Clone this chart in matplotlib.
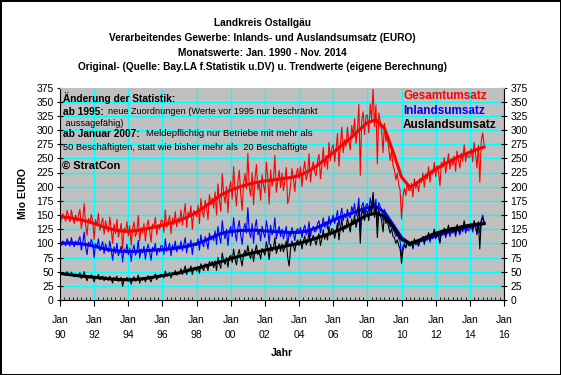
import matplotlib.pyplot as plt
import numpy as np

# monthly values Jan 1990 - Nov 2014, Mio EURO
inland = [
    92, 98, 104, 100, 96, 108, 102, 95, 110, 99, 94, 104,      # 1990
    97, 105, 112, 88, 101, 120, 93, 80, 102, 96, 107, 99,      # 1991
    75, 100, 92, 108, 87, 95, 103, 82, 99, 90, 85, 104,        # 1992
    88, 70, 94, 82, 100, 78, 86, 95, 67, 90, 84, 98,           # 1993
    80, 92, 68, 88, 97, 79, 85, 105, 74, 90, 83, 95,           # 1994
    72, 90, 98, 84, 70, 93, 88, 100, 79, 91, 85, 96,           # 1995
    95, 80, 108, 86, 92, 100, 78, 97, 88, 104, 85, 96,         # 1996
    90, 104, 87, 98, 110, 83, 100, 95, 106, 80, 101, 97,       # 1997
    96, 108, 88, 115, 100, 94, 112, 103, 90, 118, 106, 112,    # 1998
    105, 122, 98, 130, 112, 100, 140, 118, 108, 125, 96, 122,  # 1999
    130, 112, 145, 120, 104, 128, 140, 115, 98, 125, 135, 118, # 2000
    163, 120, 110, 135, 100, 128, 142, 115, 122, 104, 130, 118, # 2001
    110, 140, 125, 98, 132, 115, 122, 145, 108, 120, 130, 112, # 2002
    125, 108, 118, 130, 95, 120, 112, 128, 118, 105, 122, 126, # 2003
    118, 128, 110, 124, 132, 115, 120, 138, 112, 125, 130, 120, # 2004
    122, 135, 140, 118, 130, 145, 128, 138, 125, 148, 132, 142, # 2005
    150, 135, 145, 158, 130, 148, 162, 140, 152, 145, 160, 148, # 2006
    145, 165, 155, 170, 148, 158, 180, 120, 165, 172, 152, 168, # 2007
    170, 155, 180, 165, 185, 160, 178, 130, 172, 165, 158, 140, # 2008
    160, 145, 150, 140, 128, 138, 125, 120, 112, 118, 108, 104, # 2009
    78, 95, 100, 92, 104, 98, 95, 102, 90, 106, 97, 100,       # 2010
    95, 108, 104, 112, 98, 110, 105, 116, 102, 112, 108, 118,  # 2011
    108, 118, 112, 100, 120, 115, 124, 110, 118, 126, 112, 120, # 2012
    118, 126, 112, 130, 122, 115, 128, 120, 134, 118, 126, 122, # 2013
    125, 132, 120, 138, 128, 115, 135, 118, 140, 150, 138,     # 2014
]
ausland = [
    42, 46, 48, 47, 43, 50, 46, 43, 49, 45, 41, 46,            # 1990
    42, 45, 48, 38, 43, 50, 40, 34, 42, 40, 44, 41,            # 1991
    32, 42, 39, 45, 36, 40, 42, 34, 41, 37, 35, 42,            # 1992
    37, 30, 40, 35, 42, 33, 36, 40, 24, 37, 35, 40,            # 1993
    33, 39, 28, 37, 41, 33, 35, 44, 30, 38, 35, 40,            # 1994
    32, 39, 43, 37, 32, 41, 40, 46, 36, 42, 40, 45,            # 1995
    45, 39, 51, 42, 45, 49, 39, 48, 45, 52, 44, 49,            # 1996
    46, 55, 45, 52, 60, 45, 55, 53, 60, 45, 57, 56,            # 1997
    51, 59, 47, 64, 56, 52, 64, 60, 52, 68, 62, 68,            # 1998
    57, 69, 52, 75, 63, 56, 83, 69, 63, 75, 58, 76,            # 1999
    79, 66, 90, 73, 62, 80, 89, 72, 60, 81, 88, 78,            # 2000
    96, 80, 73, 90, 68, 85, 97, 80, 85, 72, 91, 85,            # 2001
    79, 103, 91, 71, 98, 86, 91, 110, 82, 91, 99, 86,          # 2002
    99, 85, 94, 104, 75, 60, 90, 104, 96, 86, 101, 106,        # 2003
    96, 107, 90, 104, 113, 97, 102, 120, 96, 108, 114, 106,    # 2004
    97, 111, 117, 96, 108, 124, 107, 117, 106, 130, 114, 126,  # 2005
    124, 109, 121, 136, 106, 126, 143, 120, 131, 126, 145, 131, # 2006
    120, 143, 133, 150, 128, 140, 165, 100, 152, 160, 140, 158, # 2007
    156, 140, 166, 152, 190, 146, 166, 110, 158, 150, 140, 120, # 2008
    152, 135, 140, 128, 118, 126, 112, 110, 100, 106, 96, 90,  # 2009
    65, 88, 97, 92, 102, 96, 98, 104, 92, 108, 100, 106,       # 2010
    96, 106, 103, 112, 101, 113, 108, 119, 106, 117, 114, 125, # 2011
    110, 119, 114, 102, 123, 119, 127, 114, 123, 132, 119, 128, # 2012
    120, 128, 115, 133, 125, 118, 131, 125, 140, 126, 133, 130, # 2013
    128, 135, 124, 140, 130, 118, 138, 90, 140, 145, 136,      # 2014
]

# trend values (half-year steps 1990.0 ... 2014.5, then Nov 2014)
trend_t = [1990 + 0.5 * i for i in range(50)] + [2014 + 10 / 12]
inland_trend = [
    100, 100.5, 100, 98, 95, 91, 88, 86, 85.5, 86,
    87, 88, 89, 90.5, 92.5, 95, 99, 105, 112, 118,
    121, 122.5, 123, 123, 122, 121, 120, 119, 119.5, 122,
    127, 134, 141, 147, 152, 158, 163, 165, 155, 133,
    110, 99.5, 104, 108.5, 113, 117.5, 122, 125.5, 129, 132.5,
    135,
]
ausland_trend = [
    47, 45, 43, 41.5, 40, 38.5, 37, 36, 35.5, 36.5,
    38, 40.5, 43, 45.5, 48, 52, 56, 60, 64, 68.5,
    73, 77, 81, 84.5, 88, 91, 94, 97, 100, 104.5,
    109, 114, 119, 126, 133, 141.5, 150, 153, 148, 129,
    107, 99, 105, 111.5, 118, 122, 126, 129, 132, 134,
    135,
]

inland = np.array(inland, dtype=float)
ausland = np.array(ausland, dtype=float)
gesamt = inland + ausland
gesamt_trend = np.array(inland_trend) + np.array(ausland_trend)
t = 1990 + np.arange(len(inland)) / 12

plt.rcParams['font.family'] = ['Liberation Sans', 'DejaVu Sans']

fig = plt.figure(figsize=(5.61, 3.75), dpi=100)
fig.patch.set_edgecolor('black')
fig.patch.set_linewidth(2)
ax = fig.add_axes([60 / 561, 75 / 375, 444 / 561, 212.5 / 375])
ax.set_facecolor('#c0c0c0')

ax.plot(t, gesamt, color='red', lw=0.8)
ax.plot(trend_t, gesamt_trend, color='red', lw=2.2)
ax.plot(t, inland, color='blue', lw=0.8)
ax.plot(trend_t, inland_trend, color='blue', lw=2.2)
ax.plot(t, ausland, color='black', lw=0.8)
ax.plot(trend_t, ausland_trend, color='black', lw=2.2)

ax.set_xlim(1990, 2016)
ax.set_ylim(0, 375)
xt = list(range(1990, 2017, 2))
ax.set_xticks(xt)
ax.set_xticklabels(['Jan\n%02d' % (y % 100) for y in xt], linespacing=1.6)
ax.set_xticks(np.arange(1990, 2016, 0.25), minor=True)
ax.set_yticks(range(0, 376, 25))
ax.grid(True, color='cyan', lw=1)
ax.set_axisbelow(True)
ax.tick_params(axis='both', labelsize=7.5, color='black')
ax.tick_params(axis='x', which='major', direction='out', length=4, pad=7)
ax.tick_params(axis='x', which='minor', direction='in', length=2)
ax.tick_params(axis='y', direction='inout', length=5, right=True, labelright=True, pad=2)
for s in ['left', 'right', 'bottom']:
    ax.spines[s].set_color('black')
ax.spines['top'].set_color('#c0c0c0')

ax.set_ylabel('Mio EURO', fontsize=7.5, fontweight='bold', labelpad=6)
ax.set_xlabel('Jahr', fontsize=7.5, fontweight='bold', labelpad=6)

titles = ['Landkreis Ostallgäu',
          'Verarbeitendes Gewerbe: Inlands- und Auslandsumsatz (EURO)',
          'Monatswerte: Jan. 1990 - Nov. 2014',
          'Original- (Quelle: Bay.LA f.Statistik u.DV) u. Trendwerte (eigene Berechnung)']
for i, s in enumerate(titles):
    fig.text(262 / 561, 1 - (23 + 14.8 * i) / 375, s, ha='center', va='center',
             fontsize=7.3, fontweight='bold')

# legend text
for s, c, y in [('Gesamtumsatz', 'red', 96), ('Inlandsumsatz', 'blue', 111),
                ('Auslandsumsatz', 'black', 125)]:
    fig.text(403 / 561, 1 - y / 375, s, color=c, fontsize=8.5, fontweight='bold', va='center')

# notes
def note(x, y, s, **kw):
    fig.text(x / 561, 1 - y / 375, s, va='center', **kw)

note(63, 98, 'Änderung der Statistik:', fontsize=7.3, fontweight='bold')
note(63, 112, 'ab 1995:', fontsize=7.3, fontweight='bold')
note(108, 112, 'neue Zuordnungen (Werte vor 1995 nur beschränkt', fontsize=6.6)
note(63, 123, ' aussagefähig)', fontsize=6.6)
note(63, 134, 'ab Januar 2007:', fontsize=7.3, fontweight='bold')
note(146, 134, 'Meldepflichtig nur Betriebe mit mehr als', fontsize=6.8)
note(63, 147, '50 Beschäftigten, statt wie bisher mehr als  20 Beschäftigte', fontsize=6.7)
note(62, 166, '© StratCon', fontsize=8, fontweight='bold')

fig.savefig('out.png', dpi=100)
